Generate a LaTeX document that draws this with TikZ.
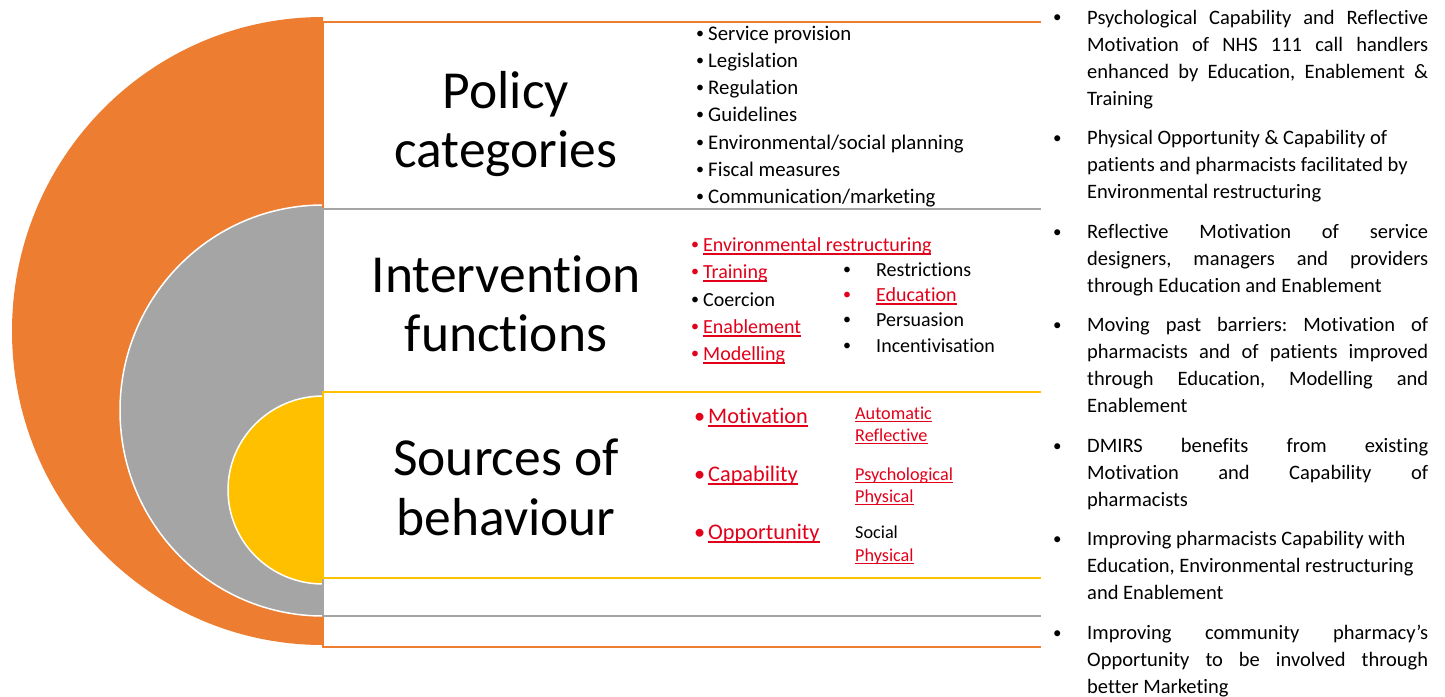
\documentclass[tikz,border=0pt]{standalone}
\usepackage{fontspec}
\setmainfont{Carlito}[Ligatures=NoCommon]
\definecolor{bcorange}{HTML}{ED7D31}
\definecolor{bcgray}{HTML}{A5A5A5}
\definecolor{bcyellow}{HTML}{FFC000}
\definecolor{bcred}{HTML}{E2001A}
\newcommand\redul[1]{\textcolor{bcred}{\setbox0\hbox{#1}\rlap{\rule[-0.18em]{\wd0}{0.08em}}\box0}}
\newcommand\sbul{\raisebox{1.5pt}{\fontsize{16}{16}\selectfont •}}
\newcommand\rb{\textcolor{bcred}{\sbul}}
\frenchspacing
\begin{document}
\begin{tikzpicture}[x=1pt,y=-1pt,
  bigtxt/.style={font=\fontsize{53.5}{59}\selectfont, inner sep=0, anchor=base},
  poltxt/.style={font=\fontsize{20.8}{27}\selectfont, inner sep=0, anchor=base west},
  inttxt/.style={font=\fontsize{20}{27}\selectfont, inner sep=0, anchor=base west},
  srctxt/.style={font=\fontsize{22.3}{27}\selectfont, inner sep=0, anchor=base west},
  subtxt/.style={font=\fontsize{18.2}{22}\selectfont, inner sep=0, anchor=base west},
  bultxt/.style={font=\fontsize{17}{27}\selectfont, inner sep=0, anchor=base west},
  note/.style={font=\fontsize{20.5}{27}\selectfont, inner sep=0, anchor=north west, text width=341pt, align=justify},
  frame/.style={line width=1.3pt}]
\useasboundingbox (0,0) rectangle (1445,696);
% half ellipses
\fill[bcorange] (323,645) arc[start angle=90,end angle=270,x radius=311,y radius=314] -- cycle;
\filldraw[fill=bcgray, draw=white, line width=1.5pt] (323,616) arc[start angle=90,end angle=270,x radius=203,y radius=205.5] -- cycle;
\filldraw[fill=bcyellow, draw=white, line width=1.5pt] (323,584) arc[start angle=90,end angle=270,x radius=95,y radius=94] -- cycle;
% frames
\fill[white] (323,22) rectangle (1041,647);
\draw[bcorange, frame] (1041,22) -- (323,22) -- (323,647) -- (1041,647);
\fill[white] (323,209) rectangle (1041,616);
\draw[bcgray, frame] (1041,209) -- (323,209) -- (323,616) -- (1041,616);
\fill[white] (323,392) rectangle (1041,578);
\draw[bcyellow, frame] (1041,392) -- (323,392) -- (323,578) -- (1041,578);
% big labels
\node[bigtxt] (pol1) at (506,108) {Policy};
\node[bigtxt] (pol2) at (506,167) {categories};
\node[bigtxt] (int1) at (506,292) {Intervention};
\node[bigtxt] (int2) at (506,351) {functions};
\node[bigtxt] (src1) at (506,475) {Sources of};
\node[bigtxt] (src2) at (506,535) {behaviour};
% policy list
\node[poltxt] (p1) at (696,40) {\makebox[12pt][l]{\sbul}Service provision};
\node[poltxt] (p2) at (696,67) {\makebox[12pt][l]{\sbul}Legislation};
\node[poltxt] (p3) at (696,94) {\makebox[12pt][l]{\sbul}Regulation};
\node[poltxt] (p4) at (696,121) {\makebox[12pt][l]{\sbul}Guidelines};
\node[poltxt] (p5) at (696,149) {\makebox[12pt][l]{\sbul}Environmental/social planning};
\node[poltxt] (p6) at (696,176) {\makebox[12pt][l]{\sbul}Fiscal measures};
\node[poltxt] (p7) at (696,203) {\makebox[12pt][l]{\sbul}Communication/marketing};
% intervention functions
\node[inttxt] (i1) at (691,251) {\makebox[12pt][l]{\rb}\redul{Environmental restructuring}};
\node[inttxt] (i2) at (691,278) {\makebox[12pt][l]{\rb}\redul{Training}};
\node[inttxt] (i3) at (691,306) {\makebox[12pt][l]{\sbul}Coercion};
\node[inttxt] (i4) at (691,333) {\makebox[12pt][l]{\rb}\redul{Enablement}};
\node[inttxt] (i5) at (691,360) {\makebox[12pt][l]{\rb}\redul{Modelling}};
\node[inttxt] (i6) at (843,276) {\makebox[33pt][l]{\sbul}Restrictions};
\node[inttxt] (i7) at (843,301) {\makebox[33pt][l]{\rb}\redul{Education}};
\node[inttxt] (i8) at (843,326) {\makebox[33pt][l]{\sbul}Persuasion};
\node[inttxt] (i9) at (843,352) {\makebox[33pt][l]{\sbul}Incentivisation};
% sources of behaviour
\node[srctxt] (s1) at (694,423) {\makebox[14pt][l]{\textcolor{bcred}{•}}\redul{Motivation}};
\node[srctxt] (s2) at (694,481) {\makebox[14pt][l]{\textcolor{bcred}{•}}\redul{Capability}};
\node[srctxt] (s3) at (694,539) {\makebox[14pt][l]{\textcolor{bcred}{•}}\redul{Opportunity}};
\node[subtxt] (s4) at (855,419) {\redul{Automatic}};
\node[subtxt] (s5) at (855,441) {\redul{Reflective}};
\node[subtxt] (s6) at (855,480) {\redul{Psychological}};
\node[subtxt] (s7) at (855,502) {\redul{Physical}};
\node[subtxt] (s8) at (855,538) {Social};
\node[subtxt] (s9) at (855,561) {\redul{Physical}};
% right notes
\node[bultxt] (b1) at (1053,23) {•};
\node[note] (n1) at (1087,4) {\rule{0pt}{20pt}Psychological Capability and Reflective\linebreak Motivation of NHS 111 call handlers\linebreak enhanced by Education, Enablement \&\linebreak Training};
\node[bultxt] (b2) at (1053,143) {•};
\node[note] (n2) at (1087,124) {\rule{0pt}{20pt}Physical Opportunity \& Capability of\\ patients and pharmacists facilitated by\\ Environmental restructuring};
\node[bultxt] (b3) at (1053,237) {•};
\node[note] (n3) at (1087,218) {\rule{0pt}{20pt}Reflective Motivation of service\linebreak designers, managers and providers\linebreak through Education and Enablement};
\node[bultxt] (b4) at (1053,330) {•};
\node[note] (n4) at (1087,311) {\rule{0pt}{20pt}Moving past barriers: Motivation of\linebreak pharmacists and of patients improved\linebreak through Education, Modelling and\linebreak Enablement};
\node[bultxt] (b5) at (1053,451) {•};
\node[note] (n5) at (1087,432) {\rule{0pt}{20pt}DMIRS benefits from existing\linebreak Motivation and Capability of\linebreak pharmacists};
\node[bultxt] (b6) at (1053,544) {•};
\node[note] (n6) at (1087,525) {\rule{0pt}{20pt}Improving pharmacists Capability with\\ Education, Environmental restructuring\\ and Enablement};
\node[bultxt] (b7) at (1053,638) {•};
\node[note] (n7) at (1087,619) {\rule{0pt}{20pt}Improving community pharmacy’s\linebreak Opportunity to be involved through\linebreak better Marketing};
\end{tikzpicture}
\end{document}
